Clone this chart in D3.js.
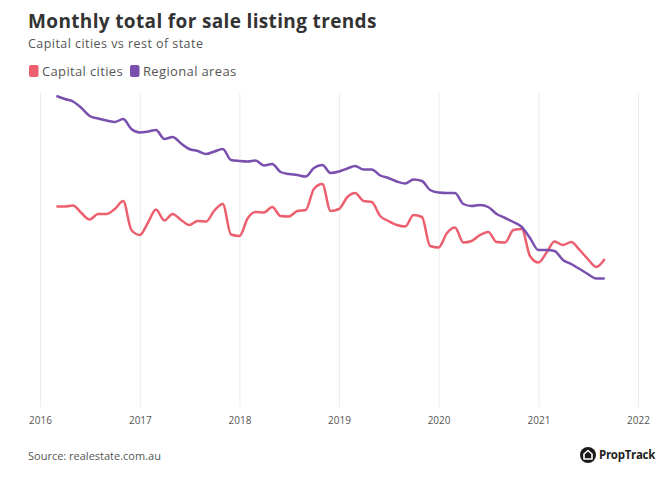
<html>
<head>
<script src="https://d3js.org/d3.v7.min.js"></script>
<style>
  body { margin: 0; background: #fff; }
  text { font-family: "Open Sans", sans-serif; }
</style>
</head>
<body>
<svg id="chart" width="660" height="478"></svg>
<script>

// monthly values, Mar 2016 .. Sep 2021 (hidden axis, index units)
var startMonth = new Date(2016, 2, 1);
var capital = [200.5, 200.5, 201.5, 194, 187.5, 193, 193, 198, 206, 177,
  172, 185, 197.5, 186.5, 193, 187, 182, 186, 185.5, 196.5,
  203, 172.5, 171, 189, 195, 194.5, 200, 191, 190.5, 196,
  197, 218, 223, 196, 198, 210, 214, 206, 205, 191,
  186, 182, 180.5, 192, 190, 161, 159.5, 174, 179.5, 164.5,
  166, 172, 175, 165, 164.5, 177, 178, 151, 144.5, 155,
  165.5, 162, 165, 157, 148, 140, 148];
var regional = [311, 308, 305.5, 299, 291, 288.5, 286.5, 285, 288, 278,
  274.5, 275.5, 277, 268, 270, 263.5, 258, 256, 253, 255.5,
  258, 247, 246, 245.5, 246.5, 241.5, 243, 235, 233, 232,
  230.5, 239, 242, 234, 235.5, 238.5, 241, 237.5, 237.5, 231.5,
  229, 225.5, 223.5, 227.5, 226, 217, 214.5, 214, 214, 203,
  201, 202, 200, 193, 189, 185, 180, 169, 157, 157,
  156, 147, 143, 138, 133, 128.5, 128.5];
var years = [2016, 2017, 2018, 2019, 2020, 2021, 2022];
var seriesNames = ["Capital cities", "Regional areas"];
var colors = ["#ec5f6e", "#7a4fae"];

var svg = d3.select("#chart");

var x = d3.scaleTime()
  .domain([new Date(2016, 0, 1), new Date(2022, 0, 1)])
  .range([40, 638]);
var y = d3.scaleLinear()
  .domain([0, 320])
  .range([407, 87]);

// titles
svg.append("text")
  .attr("x", 28).attr("y", 28)
  .style("font-size", "19px").style("font-weight", 700)
  .style("letter-spacing", "0.35px")
  .style("fill", "#333")
  .text("Monthly total for sale listing trends");
svg.append("text")
  .attr("x", 28).attr("y", 47.5)
  .style("font-size", "12.5px").style("fill", "#555")
  .style("letter-spacing", "0.45px")
  .text("Capital cities vs rest of state");

// legend
var legendX = [29, 130];
seriesNames.forEach(function(name, i) {
  svg.append("rect")
    .attr("x", legendX[i]).attr("y", 65)
    .attr("width", 9.5).attr("height", 12)
    .attr("rx", 2)
    .style("fill", colors[i]);
  svg.append("text")
    .attr("x", legendX[i] + 13).attr("y", 75.5)
    .style("font-size", "13px").style("fill", "#555")
    .style("letter-spacing", "0.35px")
    .text(name);
});

// x gridlines + labels
var xAxis = svg.append("g")
  .attr("transform", "translate(0,407)")
  .call(d3.axisBottom(x)
    .tickValues(years.map(function(d) { return new Date(d, 0, 1); }))
    .tickSize(-314)
    .tickFormat(d3.timeFormat("%Y")));
xAxis.select(".domain").remove();
xAxis.selectAll("line").style("stroke", "#ececec");
xAxis.selectAll("text")
  .attr("dy", "1.35em")
  .style("font-family", "Open Sans, sans-serif")
  .style("font-size", "10px").style("fill", "#555");

// lines
var line = d3.line()
  .x(function(d, i) { return x(d3.timeMonth.offset(startMonth, i)); })
  .y(function(d) { return y(d); })
  .curve(d3.curveMonotoneX);

[capital, regional].forEach(function(s, i) {
  svg.append("path")
    .datum(s)
    .attr("d", line)
    .style("fill", "none")
    .style("stroke", colors[i])
    .style("stroke-width", 2.5)
    .style("stroke-linejoin", "round");
});

// footer
svg.append("text")
  .attr("x", 28).attr("y", 460)
  .style("font-size", "11px").style("fill", "#555")
  .text("Source: realestate.com.au");

var logo = svg.append("g").attr("transform", "translate(588,455)");
logo.append("circle").attr("r", 8).style("fill", "#1a1a1a");
logo.append("path")
  .attr("d", "M-4,4 V-1 L0,-4.5 L4,-1 V4 Z")
  .style("fill", "none").style("stroke", "#fff").style("stroke-width", 1.6)
  .style("stroke-linejoin", "round");
svg.append("text")
  .attr("x", 599).attr("y", 459)
  .style("font-size", "11.5px").style("font-weight", 700)
  .style("fill", "#222").style("letter-spacing", "-0.3px")
  .text("PropTrack");

</script>
</body>
</html>
